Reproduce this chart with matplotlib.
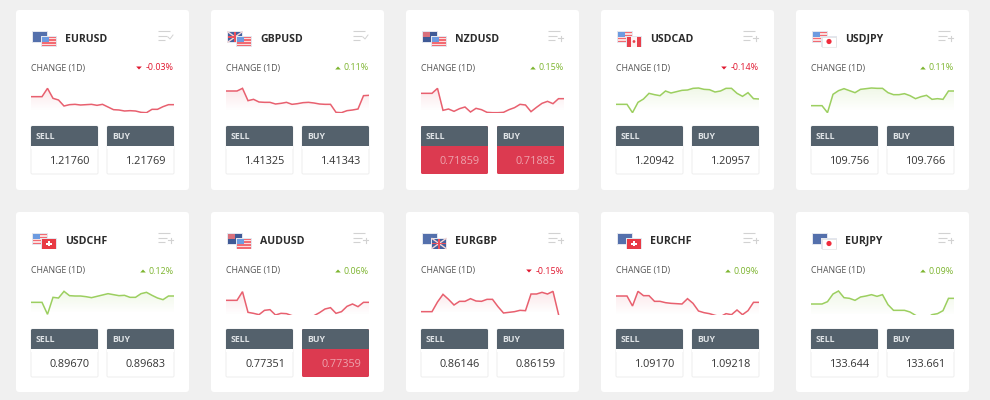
import matplotlib
matplotlib.use("Agg")
import matplotlib.pyplot as plt
from matplotlib.patches import FancyBboxPatch, Rectangle, Circle, Polygon
import numpy as np

plt.rcParams['font.family'] = ['Open Sans', 'DejaVu Sans']

pairs = ["EURUSD", "GBPUSD", "NZDUSD", "USDCAD", "USDJPY",
         "USDCHF", "AUDUSD", "EURGBP", "EURCHF", "EURJPY"]
changes = [-0.03, 0.11, 0.15, -0.14, 0.11, 0.12, 0.06, -0.15, 0.09, 0.09]
sell = ["1.21760", "1.41325", "0.71859", "1.20942", "109.756",
        "0.89670", "0.77351", "0.86146", "1.09170", "133.644"]
buy = ["1.21769", "1.41343", "0.71885", "1.20957", "109.766",
       "0.89683", "0.77359", "0.86159", "1.09218", "133.661"]
sell_hot = [False, False, True, False, False, False, False, False, False, False]
buy_hot = [False, False, True, False, False, False, True, False, False, False]
line_up = [False, False, False, True, True, True, False, False, False, True]
menu_check = [True, True, False, False, False, False, False, False, False, False]

eurusd = [70,70,70,95,65,60,42,46,47,45,46,47,44,47,39,31,30,27,28,27,23,22,32,32,40,46,46]
gbpusd = [87,87,87,95,58,62,54,53,53,48,50,53,47,49,52,53,51,48,47,47,23,22,28,30,33,73,74]
nzdusd = [80,80,80,95,29,33,26,34,39,24,35,31,23,22,22,23,31,37,47,45,25,38,50,56,49,64,64]
usdcad = [47,47,47,22,53,63,80,76,73,87,81,85,89,90,95,96,92,91,84,87,95,95,80,71,82,64,63]
usdjpy = [43,43,43,22,77,88,94,88,82,92,94,96,95,95,82,76,76,79,73,64,70,74,62,64,62,87,87]
usdchf = [68,68,68,32,83,81,101,88,87,87,85,82,86,90,94,91,88,89,83,83,94,98,89,81,76,87,87]
audusd = [74,74,74,100,38,35,31,44,46,30,35,34,28,26,23,23,28,37,48,52,35,40,56,63,55,68,68]
eurgbp = [40,40,40,69,92,77,60,71,71,79,72,71,77,77,55,36,38,40,44,43,93,93,98,93,101,32]
eurchf = [87,87,87,57,101,88,88,71,71,67,65,64,63,79,65,42,37,34,29,25,34,31,45,31,43,68,68]
eurjpy = [63,63,63,70,93,102,82,80,74,84,87,91,86,91,61,44,44,44,39,29,20,20,31,34,43,80,80]
series = [eurusd, gbpusd, nzdusd, usdcad, usdjpy, usdchf, audusd, eurgbp, eurchf, eurjpy]

BG = "#f0f0f0"; HEAD = "#54616c"; HOT = "#dc3a50"
RED_T = "#e0172f"; GRN_T = "#7db52f"; RED_L = "#e8606f"; GRN_L = "#9ccf60"
W, H = 990, 400
fig = plt.figure(figsize=(W/100, H/100), dpi=100, facecolor=BG)
bg = fig.add_axes([0, 0, 1, 1])
bg.set_xlim(0, W); bg.set_ylim(H, 0); bg.axis("off")

def rrect(ax, x0, y0, x1, y1, fc, ec="none", r=2, z=1, lw=0.8):
    ax.add_patch(FancyBboxPatch((x0+r, y0+r), x1-x0-2*r, y1-y0-2*r,
                 boxstyle=f"round,pad={r},rounding_size={r}", fc=fc, ec=ec, lw=lw, zorder=z))

def base_flag(ax, code, x, y, w, h, z):
    ax.add_patch(Rectangle((x-0.7, y-0.7), w+1.4, h+1.4, fc="#e3e6ee", ec="none", zorder=z))
    if code == "EUR":
        ax.add_patch(Rectangle((x, y), w, h, fc="#5470ac", ec="none", zorder=z))
    elif code == "USD":
        for i in range(7):
            ax.add_patch(Rectangle((x, y+i*h/7), w, h/7, fc="#f26a72" if i % 2 == 0 else "#fbdcdc", ec="none", zorder=z))
        ax.add_patch(Rectangle((x, y), w*0.5, h*0.5, fc="#6d9be0", ec="none", zorder=z+0.1))
    elif code == "GBP":
        ax.add_patch(Rectangle((x, y), w, h, fc="#45619f", ec="none", zorder=z))
        ax.plot([x, x+w], [y, y+h], color="#f5d5d5", lw=1.0, zorder=z+0.1)
        ax.plot([x, x+w], [y+h, y], color="#f5d5d5", lw=1.0, zorder=z+0.1)
        ax.add_patch(Rectangle((x+w*0.42, y), w*0.16, h, fc="#e8505c", ec="none", zorder=z+0.2))
        ax.add_patch(Rectangle((x, y+h*0.42), w, h*0.16, fc="#e8505c", ec="none", zorder=z+0.2))
    elif code in ("NZD", "AUD"):
        ax.add_patch(Rectangle((x, y), w, h, fc="#3f5a96", ec="none", zorder=z))
        ax.add_patch(Rectangle((x, y), w*0.5, h*0.5, fc="#d8707c", ec="none", zorder=z+0.1))
        ax.add_patch(Circle((x+w*0.72, y+h*0.6), 0.9, fc="#e8eaf2", ec="none", zorder=z+0.2))
    elif code == "CAD":
        ax.add_patch(Rectangle((x, y), w, h, fc="#fdf3f3", ec="none", zorder=z))
        ax.add_patch(Rectangle((x, y), w*0.26, h, fc="#e8404c", ec="none", zorder=z+0.1))
        ax.add_patch(Rectangle((x+w*0.74, y), w*0.26, h, fc="#e8404c", ec="none", zorder=z+0.1))
        ax.add_patch(Circle((x+w*0.5, y+h*0.5), 1.4, fc="#e8404c", ec="none", zorder=z+0.2))
    elif code == "JPY":
        ax.add_patch(Rectangle((x, y), w, h, fc="#ffffff", ec="#dddddd", lw=0.4, zorder=z))
        ax.add_patch(Circle((x+w*0.5, y+h*0.5), 2.6, fc="#f02c3c", ec="none", zorder=z+0.2))
    elif code == "CHF":
        ax.add_patch(Rectangle((x, y), w, h, fc="#e83a44", ec="none", zorder=z))
        ax.add_patch(Rectangle((x+w*0.4, y+h*0.22), w*0.2, h*0.56, fc="white", ec="none", zorder=z+0.1))
        ax.add_patch(Rectangle((x+w*0.27, y+h*0.4), w*0.46, h*0.2, fc="white", ec="none", zorder=z+0.1))

for i, pair in enumerate(pairs):
    col, row = i % 5, i // 5
    ox = 195 * col
    dy_card = 202 * row
    dy = 203 * row
    rrect(bg, 16+ox, 10+dy_card, 189+ox, 190+dy_card, "white", r=3)
    base_flag(bg, pair[:3], 33+ox, 32+dy_card, 14, 10, 2)
    base_flag(bg, pair[3:], 42+ox, 36.5+dy_card, 14, 10, 3)
    bg.text(65+ox, 39.5+dy_card, pair, fontsize=7.6, fontweight="bold", color="#2b2b2b", va="center", ha="left")
    for k, ln in enumerate((12, 9, 7)):
        bg.plot([158+ox, 158+ox+ln], [31+k*4.5+dy_card]*2, color="#d2d2d2", lw=0.8, solid_capstyle="butt", zorder=2)
    if menu_check[i]:
        bg.plot([168+ox, 170+ox, 173+ox], [37+dy_card, 39+dy_card, 35+dy_card], color="#d2d2d2", lw=0.7)
    else:
        bg.plot([168+ox, 173+ox], [38+dy_card]*2, color="#d2d2d2", lw=0.8)
        bg.plot([170.5+ox]*2, [35.5+dy_card, 40.5+dy_card], color="#d2d2d2", lw=0.8)
    bg.text(31+ox, 68+dy, "CHANGE (1D)", fontsize=6.3, color="#555555", va="center", ha="left")
    c = changes[i]
    tcol = GRN_T if c >= 0 else RED_T
    label = f"{c:.2f}%"
    bg.text(174+ox, 68+dy, label, fontsize=6.4, color=tcol, va="center", ha="right")
    tx = 139+ox if c < 0 else 143+ox
    if c < 0:
        bg.add_patch(Polygon([(tx-2.8, 66.5+dy), (tx+2.8, 66.5+dy), (tx, 69.5+dy)], fc=tcol, ec="none"))
    else:
        bg.add_patch(Polygon([(tx-2.8, 69.5+dy), (tx+2.8, 69.5+dy), (tx, 66.5+dy)], fc=tcol, ec="none"))
    for (x0, x1, lab, val, hot, px) in ((31, 98, "SELL", sell[i], sell_hot[i], 90),
                                        (107, 174, "BUY", buy[i], buy_hot[i], 166)):
        rrect(bg, x0+ox, 126+dy, x1+ox, 174+dy, HOT if hot else "white",
              ec="none" if hot else "#f0f0f0", r=1.5, z=2)
        rrect(bg, x0+ox, 126+dy, x1+ox, 148+dy, HEAD, r=1.5, z=3)
        bg.add_patch(Rectangle((x0+ox, 146+dy), x1-x0, 3, fc=HOT if hot else "white", ec="none", zorder=3.2))
        bg.text(x0+5+ox, 136.5+dy, lab, fontsize=6.3, fontweight="bold", color="#dfe3e6", va="center", ha="left", zorder=4)
        bg.text(px+ox, 161.5+dy, val, fontsize=7.8, color="#eda3ad" if hot else "#333333", va="center", ha="right", zorder=4)
    top = 80 + 202*row
    bot = 113 if row == 0 else 314.5 + 0
    ylo, yhi = (21, 120) if row == 0 else (31.5, 130.5)
    if row == 1:
        top = 281.5
    ax = fig.add_axes([(31+ox)/W, (H-bot)/H, 143/W, (bot-top)/H])
    ax.axis("off"); ax.patch.set_alpha(0)
    y = np.array(series[i], dtype=float)
    x = np.arange(len(y))
    lc = GRN_L if line_up[i] else RED_L
    rgb = matplotlib.colors.to_rgb(lc)
    grad = np.zeros((64, 2, 4)); grad[..., :3] = rgb
    ymax, ymin = max(y), min(y)
    grad[..., 3] = np.linspace(0.15, 0, 64)[:, None]
    poly = ax.fill_between(x, y, ylo, color="none")
    im = ax.imshow(grad, extent=(0, 26, ymin+5, ymax), aspect="auto", zorder=1, origin="upper")
    im.set_clip_path(poly.get_paths()[0], transform=ax.transData)
    ax.set_xlim(0, 26); ax.set_ylim(ylo, yhi)
    ax.plot(x, y, color=lc, lw=1.1, solid_joinstyle="miter", zorder=2)

fig.savefig("out.png", dpi=100, facecolor=BG)
